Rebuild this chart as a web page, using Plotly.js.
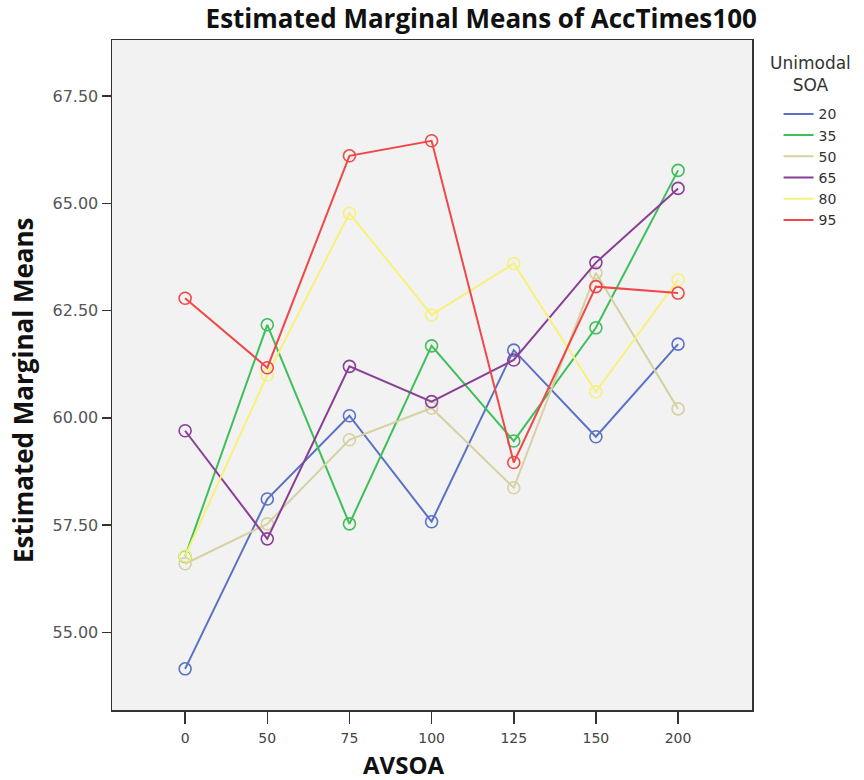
<!DOCTYPE html>
<html>
<head>
<meta charset="utf-8">
<script src="https://cdn.plot.ly/plotly-3.0.1.min.js"></script>
<style>
  html, body { margin: 0; padding: 0; background: #ffffff; }
  #chart { width: 864px; height: 780px; }
</style>
</head>
<body>
<div id="chart"></div>
<script>
// AVSOA levels on the x axis
const avsoa = ["0", "50", "75", "100", "125", "150", "200"];

// Unimodal SOA groups and their estimated marginal means
const soaLabels = ["20", "35", "50", "65", "80", "95"];
const soa20 = [54.15, 58.11, 60.05, 57.58, 61.58, 59.56, 61.72];
const soa35 = [56.77, 62.17, 57.53, 61.68, 59.46, 62.10, 65.77];
const soa50 = [56.60, 57.53, 59.49, 60.23, 58.37, 63.38, 60.21];
const soa65 = [59.70, 57.18, 61.20, 60.38, 61.35, 63.62, 65.35];
const soa80 = [56.78, 61.00, 64.77, 62.40, 63.60, 60.61, 63.22];
const soa95 = [62.79, 61.17, 66.11, 66.46, 58.96, 63.06, 62.91];

const yTicks = [55, 57.5, 60, 62.5, 65, 67.5];
const yTickText = ["55.00", "57.50", "60.00", "62.50", "65.00", "67.50"];

const seriesValues = [soa20, soa35, soa50, soa65, soa80, soa95];
const seriesColors = ["#5a72c4", "#3fbf5a", "#d6d1a2", "#8a3f96", "#f7f17a", "#f04848"];

const traces = [];
seriesValues.forEach((vals, i) => {
  // connecting line, shown in the legend
  traces.push({
    type: "scatter",
    mode: "lines",
    x: avsoa,
    y: vals,
    name: soaLabels[i],
    legendgroup: soaLabels[i],
    line: { color: seriesColors[i], width: 2 },
    hoverinfo: "skip"
  });
  // open circle markers at each mean
  traces.push({
    type: "scatter",
    mode: "markers",
    x: avsoa,
    y: vals,
    name: soaLabels[i],
    legendgroup: soaLabels[i],
    showlegend: false,
    marker: {
      symbol: "circle-open",
      size: 12,
      color: seriesColors[i],
      line: { color: seriesColors[i], width: 1.6 }
    }
  });
});

const titleFont = { family: "Open Sans, sans-serif", size: 26, color: "#111111" };

const layout = {
  width: 864,
  height: 780,
  paper_bgcolor: "#ffffff",
  plot_bgcolor: "#f2f2f2",
  margin: { l: 112, r: 112, t: 40, b: 70 },
  title: {
    text: "<b>Estimated Marginal Means of AccTimes100</b>",
    font: titleFont,
    x: 0.557, xanchor: "center",
    y: 0.976, yanchor: "middle", yref: "container"
  },
  xaxis: {
    type: "category",
    categoryorder: "array",
    categoryarray: avsoa,
    range: [-0.89, 6.9],
    showgrid: false,
    zeroline: false,
    showline: true,
    mirror: true,
    linecolor: "#333333",
    linewidth: 1.5,
    ticks: "outside",
    ticklen: 12,
    tickwidth: 1.5,
    tickcolor: "#333333",
    ticklabelstandoff: 3,
    tickfont: { family: "DejaVu Sans, sans-serif", size: 14, color: "#444444" }
  },
  yaxis: {
    range: [53.19, 68.81],
    tickvals: yTicks,
    ticktext: yTickText,
    showgrid: false,
    zeroline: false,
    showline: true,
    mirror: true,
    linecolor: "#333333",
    linewidth: 1.5,
    ticks: "outside",
    ticklen: 9,
    tickwidth: 1.5,
    tickcolor: "#333333",
    tickfont: { family: "DejaVu Sans, sans-serif", size: 16, color: "#555555" }
  },
  annotations: [
    {
      // y axis title
      text: "<b>Estimated Marginal Means</b>",
      xref: "paper", yref: "paper",
      x: -0.139, y: 0.4776,
      xanchor: "center", yanchor: "middle",
      textangle: -90,
      showarrow: false,
      font: titleFont
    },
    {
      // x axis title
      text: "<b>AVSOA</b>",
      xref: "paper", yref: "paper",
      x: 0.4554, y: -0.0815,
      xanchor: "center", yanchor: "middle",
      showarrow: false,
      font: { family: "Open Sans, sans-serif", size: 24, color: "#111111" }
    },
    {
      // legend heading
      text: "Unimodal<br>SOA",
      xref: "paper", yref: "paper",
      x: 1.0908, y: 0.949,
      xanchor: "center", yanchor: "middle",
      align: "center",
      showarrow: false,
      font: { family: "DejaVu Sans, sans-serif", size: 17, color: "#333333" }
    }
  ],
  legend: {
    x: 1.0415, xanchor: "left",
    y: 0.913, yanchor: "top",
    bgcolor: "rgba(0,0,0,0)",
    font: { family: "DejaVu Sans, sans-serif", size: 14, color: "#333333" },
    tracegroupgap: 0,
    itemwidth: 30
  },
  showlegend: true
};

Plotly.newPlot("chart", traces, layout, { displayModeBar: false, staticPlot: true });
</script>
</body>
</html>
